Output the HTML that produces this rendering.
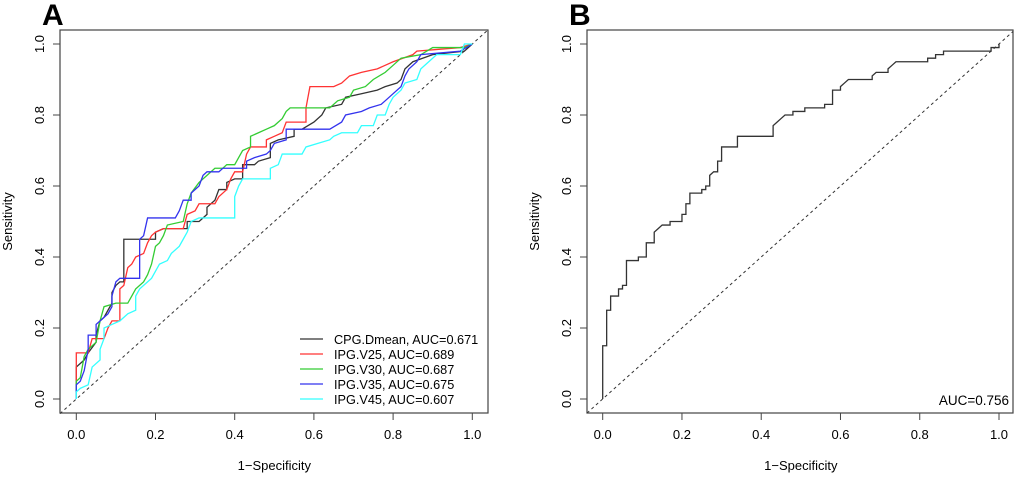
<!DOCTYPE html>
<html><head><meta charset="utf-8"><style>
body{margin:0;background:#fff}
text{font-family:"Liberation Sans",sans-serif;fill:#000}
</style></head><body>
<svg id="s" width="1020" height="477" viewBox="0 0 1020 477" xmlns="http://www.w3.org/2000/svg"></svg>
<script>
const ticks=[0,0.2,0.4,0.6,0.8,1.0];
const tickLabels=["0.0","0.2","0.4","0.6","0.8","1.0"];
const seriesNames=["CPG.Dmean","IPG.V25","IPG.V30","IPG.V35","IPG.V45"];
const seriesAUC=["0.671","0.689","0.687","0.675","0.607"];
const seriesColors=["#333333","#ff3333","#33cc33","#3333ee","#33ffff"];
const cpg=[[0,0],[0,0.09],[0.01,0.10],[0.02,0.11],[0.03,0.13],[0.05,0.16],[0.05,0.18],[0.06,0.22],[0.07,0.23],[0.08,0.25],[0.09,0.27],[0.09,0.30],[0.10,0.32],[0.11,0.33],[0.12,0.33],[0.12,0.45],[0.2,0.45],[0.2,0.47],[0.22,0.48],[0.28,0.48],[0.28,0.5],[0.31,0.5],[0.33,0.52],[0.33,0.54],[0.35,0.56],[0.36,0.59],[0.38,0.59],[0.38,0.61],[0.40,0.62],[0.42,0.62],[0.42,0.66],[0.45,0.66],[0.46,0.67],[0.49,0.68],[0.49,0.72],[0.51,0.73],[0.55,0.74],[0.55,0.76],[0.57,0.76],[0.60,0.78],[0.62,0.80],[0.63,0.82],[0.67,0.83],[0.68,0.85],[0.72,0.86],[0.76,0.87],[0.78,0.88],[0.81,0.89],[0.82,0.90],[0.83,0.93],[0.85,0.95],[0.9,0.97],[0.98,0.98],[1,1]];
const v25=[[0,0],[0,0.13],[0.03,0.13],[0.04,0.17],[0.07,0.17],[0.08,0.2],[0.09,0.22],[0.11,0.22],[0.11,0.31],[0.12,0.32],[0.13,0.37],[0.14,0.38],[0.15,0.40],[0.17,0.41],[0.18,0.44],[0.19,0.46],[0.20,0.47],[0.22,0.48],[0.27,0.48],[0.28,0.52],[0.30,0.53],[0.31,0.55],[0.35,0.55],[0.36,0.57],[0.38,0.59],[0.39,0.62],[0.4,0.64],[0.42,0.64],[0.43,0.69],[0.44,0.71],[0.48,0.71],[0.48,0.73],[0.5,0.74],[0.52,0.75],[0.53,0.78],[0.58,0.78],[0.58,0.82],[0.59,0.88],[0.65,0.88],[0.67,0.89],[0.69,0.91],[0.72,0.92],[0.76,0.93],[0.78,0.94],[0.80,0.95],[0.85,0.97],[0.86,0.98],[0.97,0.99],[1,1]];
const v30=[[0,0],[0,0.05],[0.01,0.06],[0.02,0.12],[0.03,0.14],[0.05,0.16],[0.06,0.22],[0.07,0.26],[0.10,0.27],[0.13,0.27],[0.14,0.29],[0.15,0.31],[0.17,0.33],[0.18,0.35],[0.19,0.38],[0.20,0.43],[0.21,0.44],[0.22,0.46],[0.23,0.49],[0.27,0.50],[0.28,0.55],[0.29,0.58],[0.31,0.61],[0.33,0.63],[0.35,0.65],[0.37,0.65],[0.38,0.66],[0.40,0.66],[0.41,0.68],[0.42,0.70],[0.44,0.71],[0.44,0.74],[0.46,0.75],[0.48,0.76],[0.5,0.77],[0.52,0.79],[0.53,0.81],[0.54,0.82],[0.64,0.82],[0.66,0.84],[0.69,0.85],[0.70,0.87],[0.73,0.88],[0.75,0.90],[0.78,0.92],[0.80,0.94],[0.82,0.96],[0.87,0.97],[0.9,0.99],[0.98,0.99],[1,1]];
const v35=[[0,0],[0,0.04],[0.01,0.05],[0.02,0.08],[0.03,0.14],[0.03,0.18],[0.05,0.18],[0.05,0.21],[0.07,0.23],[0.08,0.24],[0.09,0.26],[0.09,0.29],[0.10,0.33],[0.11,0.34],[0.16,0.34],[0.16,0.45],[0.17,0.46],[0.18,0.51],[0.25,0.51],[0.26,0.53],[0.27,0.56],[0.29,0.56],[0.29,0.58],[0.31,0.60],[0.32,0.63],[0.33,0.64],[0.36,0.64],[0.37,0.65],[0.43,0.65],[0.43,0.67],[0.45,0.68],[0.48,0.69],[0.49,0.70],[0.50,0.72],[0.53,0.73],[0.53,0.76],[0.64,0.76],[0.67,0.78],[0.68,0.80],[0.72,0.81],[0.74,0.82],[0.77,0.83],[0.78,0.84],[0.80,0.86],[0.82,0.88],[0.83,0.91],[0.84,0.93],[0.86,0.95],[0.87,0.97],[0.97,0.98],[1,1]];
const v45=[[0,0],[0,0.02],[0.01,0.03],[0.03,0.04],[0.04,0.09],[0.06,0.11],[0.06,0.14],[0.07,0.17],[0.07,0.2],[0.09,0.21],[0.11,0.22],[0.12,0.23],[0.13,0.24],[0.15,0.25],[0.15,0.29],[0.16,0.31],[0.17,0.32],[0.18,0.33],[0.19,0.34],[0.2,0.36],[0.21,0.38],[0.23,0.39],[0.24,0.41],[0.26,0.43],[0.27,0.45],[0.28,0.47],[0.29,0.50],[0.31,0.51],[0.40,0.51],[0.40,0.57],[0.41,0.60],[0.42,0.62],[0.49,0.62],[0.49,0.65],[0.51,0.66],[0.52,0.69],[0.57,0.69],[0.58,0.71],[0.61,0.72],[0.64,0.73],[0.65,0.74],[0.67,0.75],[0.71,0.75],[0.72,0.77],[0.75,0.77],[0.76,0.80],[0.78,0.80],[0.79,0.83],[0.80,0.85],[0.82,0.87],[0.83,0.89],[0.86,0.90],[0.87,0.93],[0.89,0.95],[0.91,0.97],[0.97,0.97],[0.98,1],[1,1]];
const rocB=[[0,0],[0,0.15],[0.01,0.15],[0.01,0.25],[0.02,0.25],[0.02,0.29],[0.04,0.29],[0.04,0.31],[0.05,0.31],[0.05,0.32],[0.06,0.32],[0.06,0.39],[0.09,0.39],[0.09,0.40],[0.11,0.40],[0.11,0.44],[0.13,0.44],[0.13,0.47],[0.14,0.48],[0.15,0.49],[0.17,0.49],[0.17,0.50],[0.2,0.50],[0.2,0.52],[0.21,0.52],[0.21,0.55],[0.22,0.55],[0.22,0.58],[0.25,0.58],[0.25,0.59],[0.26,0.59],[0.26,0.60],[0.27,0.60],[0.27,0.63],[0.28,0.64],[0.29,0.64],[0.29,0.67],[0.30,0.67],[0.30,0.71],[0.34,0.71],[0.34,0.74],[0.43,0.74],[0.43,0.77],[0.44,0.78],[0.45,0.79],[0.46,0.80],[0.48,0.80],[0.48,0.81],[0.51,0.81],[0.51,0.82],[0.56,0.82],[0.56,0.83],[0.58,0.83],[0.58,0.87],[0.60,0.87],[0.60,0.88],[0.61,0.89],[0.62,0.90],[0.68,0.90],[0.68,0.91],[0.69,0.92],[0.72,0.92],[0.72,0.93],[0.73,0.94],[0.74,0.95],[0.82,0.95],[0.82,0.96],[0.84,0.96],[0.84,0.97],[0.86,0.97],[0.86,0.98],[0.98,0.98],[0.98,0.99],[1,0.99],[1,1]];
const aucB="0.756";

const svg=document.getElementById('s');const NS="http://www.w3.org/2000/svg";
function el(t,a,p){const e=document.createElementNS(NS,t);for(const k in a)e.setAttribute(k,a[k]);(p||svg).appendChild(e);return e;}
function panel(letter,box,x0,x1,y0,y1,series,colors,names){
  const g=el('g',{});
  
  
  const sx=v=>x0+(x1-x0)*v, sy=v=>y0+(y1-y0)*v;
  const L=el('text',{x:box[0]-18,y:25,'font-size':30,'font-weight':'bold'},g);L.textContent=letter;
  
  
  const r=el('rect',{x:box[0],y:box[1],width:box[2]-box[0],height:box[3]-box[1],fill:'none',stroke:'#444','stroke-width':1.2},g);
  
  
  const t0=(box[0]-x0)/(x1-x0), t1=(box[2]-x0)/(x1-x0);
  const d=el('line',{x1:sx(t0),y1:sy(t0),x2:sx(t1),y2:sy(t1),stroke:'#333','stroke-dasharray':'3,3','stroke-width':1},g);
  
  
  ticks.forEach((t,i)=>{
    el('line',{x1:sx(t),x2:sx(t),y1:box[3],y2:box[3]+7,stroke:'#444'},g);
    const tx=el('text',{x:sx(t),y:box[3]+26,'font-size':13,'text-anchor':'middle'},g);tx.textContent=tickLabels[i];
    
    
    el('line',{x1:box[0],x2:box[0]-7,y1:sy(t),y2:sy(t),stroke:'#444'},g);
    const ty=el('text',{x:box[0]-16,y:sy(t),'font-size':13,'text-anchor':'middle',transform:`rotate(-90 ${box[0]-16} ${sy(t)})`},g);ty.textContent=tickLabels[i];
    
    
  });
  el('line',{x1:sx(0),x2:sx(1),y1:box[3],y2:box[3],stroke:'#444'},g);
  const xt=el('text',{x:(sx(0)+sx(1))/2,y:470,'font-size':13,'text-anchor':'middle'},g);xt.textContent='1\u2212Specificity';
  
  
  const yx=box[0]-48, yy=(sy(0)+sy(1))/2;
  const yt=el('text',{x:yx,y:yy,'font-size':13,'text-anchor':'middle',transform:`rotate(-90 ${yx} ${yy})`},g);yt.textContent='Sensitivity';
  
  
  series.forEach((s,i)=>{
    const p=el('polyline',{points:s.map(q=>sx(q[0])+','+sy(q[1])).join(' '),fill:'none',stroke:colors[i],'stroke-width':1.3},g);
    
    
  });
  return {g,sx,sy};
}
const A=panel('A',[60,30,488,413],76.3,472.3,399,44,[cpg,v25,v30,v35,v45],seriesColors,seriesNames);
seriesNames.forEach((n,i)=>{
  const y=339+i*15;
  const ln=el('line',{x1:300,x2:323,y1:y,y2:y,stroke:seriesColors[i],'stroke-width':1.3},A.g);
  
  
  const t=el('text',{x:334,y:y+5,'font-size':12.7},A.g);t.textContent=n+', AUC='+seriesAUC[i];
  
  
});
const B=panel('B',[587,30,1013,413],602.7,999,399,44,[rocB],['#333'],['combined']);
const ta=el('text',{x:1009,y:405,'font-size':13.5,'text-anchor':'end'},B.g);ta.textContent='AUC='+aucB;


</script>
</body></html>
